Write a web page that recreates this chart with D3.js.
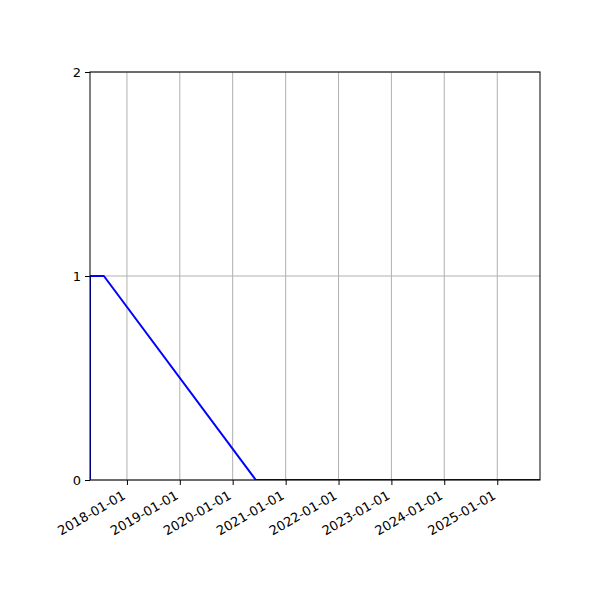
<!DOCTYPE html>
<html>
<head>
<meta charset="utf-8">
<script src="https://cdn.jsdelivr.net/npm/d3@7"></script>
<style>
body { margin: 0; background: #fff; }
text { font-family: "DejaVu Sans", sans-serif; font-size: 13px; fill: #000; }
</style>
</head>
<body>
<script>
// data
var dates = ["2017-04-21", "2017-04-21", "2017-07-26", "2020-06-09", "2025-10-23"];
var values = [0, 1, 1, 0, 0];
var yTicks = [0, 1, 2];
var xTickLabels = ["2018-01-01", "2019-01-01", "2020-01-01", "2021-01-01",
                   "2022-01-01", "2023-01-01", "2024-01-01", "2025-01-01"];

var parse = d3.utcParse("%Y-%m-%d");
var points = dates.map(function(d, i) { return { date: parse(d), value: values[i] }; });
var xTicks = xTickLabels.map(parse);

var plotLeft = 90, plotRight = 540, plotTop = 72, plotBottom = 480;

var svg = d3.select("body").append("svg")
    .attr("width", 600)
    .attr("height", 600);

var x = d3.scaleUtc()
    .domain(d3.extent(points, function(d) { return d.date; }))
    .range([plotLeft, plotRight]);
var y = d3.scaleLinear()
    .domain([0, 2])
    .range([plotBottom, plotTop]);

// grid
svg.append("g")
    .selectAll("line")
    .data(xTicks)
    .enter().append("line")
    .attr("x1", function(d) { return x(d); })
    .attr("x2", function(d) { return x(d); })
    .attr("y1", plotTop)
    .attr("y2", plotBottom)
    .attr("stroke", "#b0b0b0")
    .attr("stroke-width", 1);

svg.append("g")
    .selectAll("line")
    .data(yTicks)
    .enter().append("line")
    .attr("x1", plotLeft)
    .attr("x2", plotRight)
    .attr("y1", function(d) { return y(d); })
    .attr("y2", function(d) { return y(d); })
    .attr("stroke", "#b0b0b0")
    .attr("stroke-width", 1);

svg.append("clipPath")
    .attr("id", "clip")
    .append("rect")
    .attr("x", plotLeft)
    .attr("y", plotTop)
    .attr("width", plotRight - plotLeft)
    .attr("height", plotBottom - plotTop);

var line = d3.line()
    .x(function(d) { return x(d.date); })
    .y(function(d) { return y(d.value); });

svg.append("path")
    .datum(points)
    .attr("clip-path", "url(#clip)")
    .attr("d", line)
    .attr("fill", "none")
    .attr("stroke", "blue")
    .attr("stroke-width", 2)
    .attr("stroke-linejoin", "round");

// axes
var xAxis = svg.append("g")
    .attr("transform", "translate(0," + plotBottom + ")")
    .call(d3.axisBottom(x)
        .tickValues(xTicks)
        .tickFormat(d3.utcFormat("%Y-%m-%d"))
        .tickSizeOuter(0)
        .tickSize(5));

xAxis.selectAll("text")
    .attr("text-anchor", "end")
    .attr("dy", null)
    .attr("y", 0)
    .attr("transform", "translate(-1,18) rotate(-30)");

svg.append("g")
    .attr("transform", "translate(" + plotLeft + ",0)")
    .call(d3.axisLeft(y)
        .tickValues(yTicks)
        .tickFormat(d3.format("d"))
        .tickSizeOuter(0)
        .tickSize(5)
        .tickPadding(4));

svg.selectAll(".domain").remove();
svg.selectAll(".tick line").attr("stroke", "#000").attr("stroke-width", 1);
svg.selectAll(".tick text").style("font-family", "DejaVu Sans").style("font-size", "13px");

// frame
svg.append("rect")
    .attr("x", plotLeft)
    .attr("y", plotTop)
    .attr("width", plotRight - plotLeft)
    .attr("height", plotBottom - plotTop)
    .attr("fill", "none")
    .attr("stroke", "#000")
    .attr("stroke-width", 1);
</script>
</body>
</html>
